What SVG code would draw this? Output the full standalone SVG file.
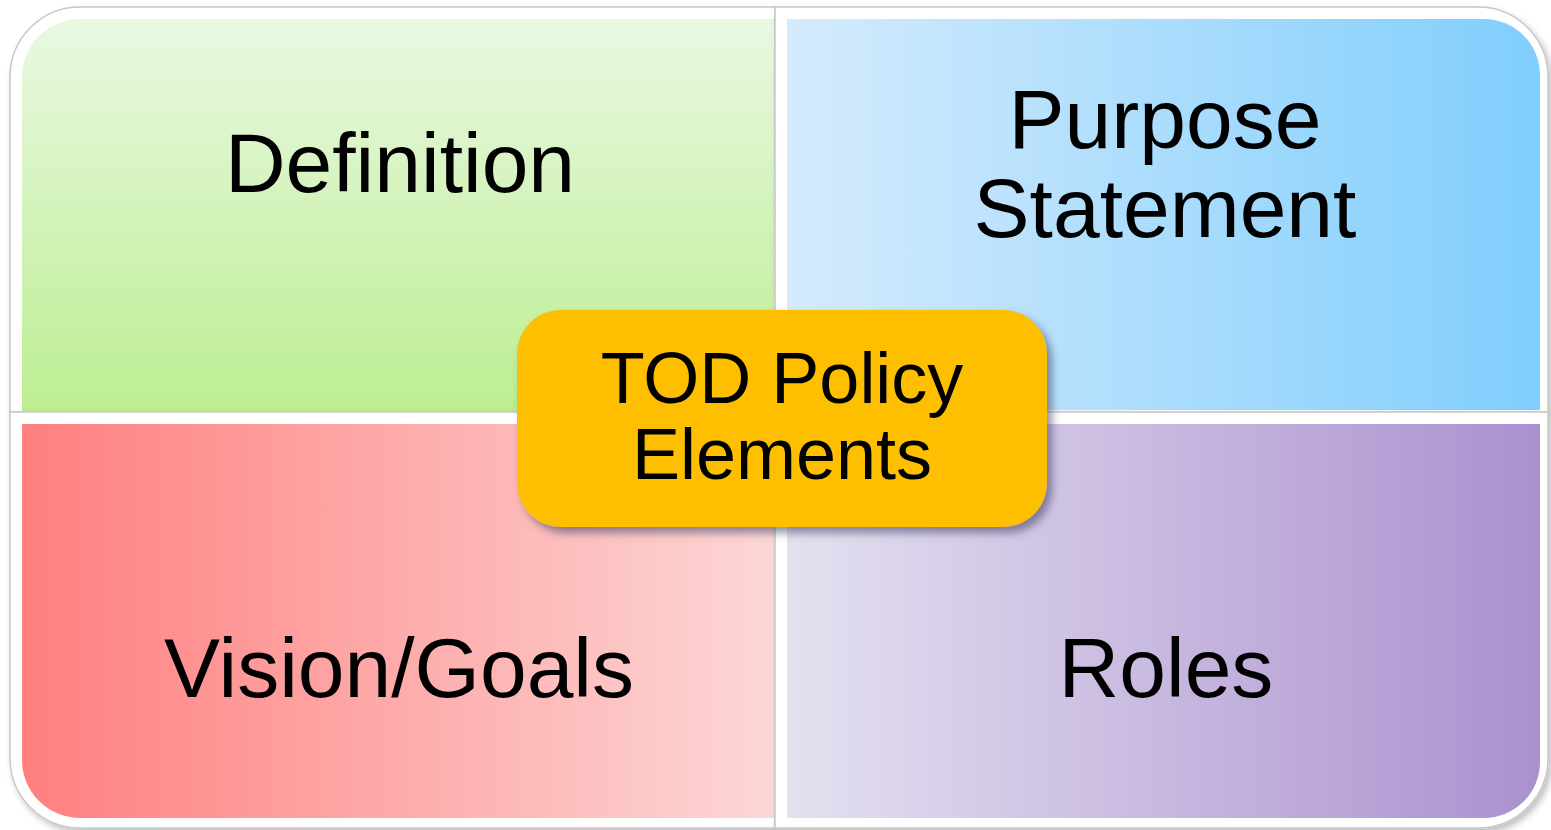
<svg xmlns="http://www.w3.org/2000/svg" width="1551" height="830" viewBox="0 0 1551 830">
<defs>
<linearGradient id="gTL" x1="0" y1="0" x2="0" y2="1"><stop offset="0" stop-color="#eaf8e3"/><stop offset="1" stop-color="#bcee91"/></linearGradient>
<linearGradient id="gTR" x1="0" y1="0" x2="1" y2="0"><stop offset="0" stop-color="#d5ebfc"/><stop offset="1" stop-color="#80cefd"/></linearGradient>
<linearGradient id="gBL" x1="0" y1="0" x2="1" y2="0"><stop offset="0" stop-color="#ff7f7f"/><stop offset="1" stop-color="#fcd7d6"/></linearGradient>
<linearGradient id="gBR" x1="0" y1="0" x2="1" y2="0"><stop offset="0" stop-color="#e4e0f0"/><stop offset="1" stop-color="#ab90cf"/></linearGradient>
<filter id="sh" x="-10%" y="-10%" width="130%" height="130%"><feDropShadow dx="3" dy="4" stdDeviation="3" flood-color="#000" flood-opacity="0.25"/></filter>
<filter id="sh2" x="-10%" y="-10%" width="130%" height="140%"><feDropShadow dx="5" dy="6" stdDeviation="4" flood-color="#3a3a5a" flood-opacity="0.55"/></filter>
</defs>
<style>
.tile{fill:#ffffff;stroke:#c8c8c8;stroke-width:1.5}
.lbl{font-family:"Liberation Sans",Arial,sans-serif;font-size:84px;fill:#000;text-anchor:middle}
.ctr{font-family:"Liberation Sans",Arial,sans-serif;font-size:72px;fill:#000;text-anchor:middle}
</style>
<g id="definition">
<path class="tile" filter="url(#sh)" d="M10,412 V77 A70,70 0 0 1 80,7 H775 V412 Z"/>
<path fill="url(#gTL)" d="M22,411 V77 A58,58 0 0 1 80,19 H774 V411 Z"/>
<text class="lbl" x="400" y="192">Definition</text>
</g>
<g id="purpose">
<path class="tile" filter="url(#sh)" d="M775,7 H1478 A70,70 0 0 1 1548,77 V412 H775 Z"/>
<path fill="url(#gTR)" d="M787,19 H1484 A56,56 0 0 1 1540,75 V410 H787 Z"/>
<text class="lbl" x="1165" y="148">Purpose</text>
<text class="lbl" x="1165" y="237">Statement</text>
</g>
<g id="vision">
<path class="tile" filter="url(#sh)" d="M10,412 H775 V828 H80 A70,70 0 0 1 10,758 Z"/>
<path fill="url(#gBL)" d="M22,424 H774 V818 H80 A58,58 0 0 1 22,760 Z"/>
<text class="lbl" x="399" y="697">Vision/Goals</text>
</g>
<g id="roles">
<path class="tile" filter="url(#sh)" d="M775,412 H1548 V758 A70,70 0 0 1 1478,828 H775 Z"/>
<path fill="url(#gBR)" d="M787,424 H1540 V762 A56,56 0 0 1 1484,818 H787 Z"/>
<text class="lbl" x="1166" y="697">Roles</text>
</g>
<g id="connectors"></g>
<g id="center">
<rect x="517" y="310" width="530" height="217" rx="44" ry="44" fill="#fdbf00" filter="url(#sh2)"/>
<text class="ctr" x="782" y="403">TOD Policy</text>
<text class="ctr" x="782" y="479">Elements</text>
</g>
</svg>
